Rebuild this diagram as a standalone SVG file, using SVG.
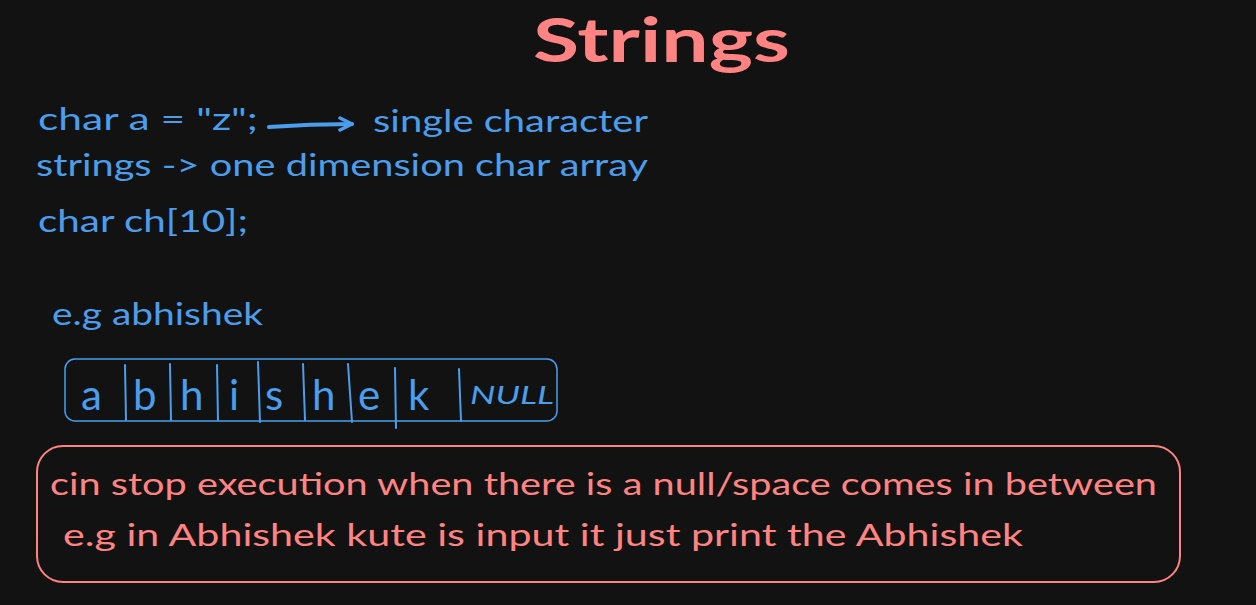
<svg xmlns="http://www.w3.org/2000/svg" width="1256" height="605" viewBox="0 0 1256 605">
<defs>
<style>
.bg{fill:#121212}
.blue{fill:#4a9eed;font-family:"Lato","Noto Sans",sans-serif}
.red{fill:#ff8383;font-family:"Lato","Noto Sans",sans-serif}
.bline{stroke:#4a9eed;stroke-width:2;fill:none;stroke-linecap:round}
</style>
<marker id="ah" viewBox="0 0 16 16" refX="14" refY="8" markerWidth="16" markerHeight="16" markerUnits="userSpaceOnUse" orient="auto">
<path d="M2,2 L14,8 L2,14" fill="none" stroke="#4a9eed" stroke-width="3.5" stroke-linecap="round" stroke-linejoin="round"/>
</marker>
</defs>
<rect class="bg" x="0" y="0" width="1256" height="605"/>
<g id="title"><text class="red" x="533" y="62" font-size="62" font-weight="bold" textLength="257" lengthAdjust="spacingAndGlyphs">Strings</text></g>
<g id="line1"><text class="blue" x="38" y="130" font-size="30" textLength="220" lengthAdjust="spacingAndGlyphs">char a = "z";</text></g>
<g id="line1b"><text class="blue" x="373" y="132" font-size="30" textLength="275" lengthAdjust="spacingAndGlyphs">single character</text></g>
<g id="line2"><text class="blue" x="36" y="176" font-size="30" textLength="612" lengthAdjust="spacingAndGlyphs">strings -&gt; one dimension char array</text></g>
<g id="line3"><text class="blue" x="38" y="232" font-size="30" textLength="210" lengthAdjust="spacingAndGlyphs">char ch[10];</text></g>
<g id="example"><text class="blue" x="52" y="325" font-size="30" textLength="211" lengthAdjust="spacingAndGlyphs">e.g abhishek</text></g>
<g id="array">
<rect x="65" y="359" width="492" height="62" rx="10" stroke="#4a9eed" stroke-width="1.5" fill="none"/>
<g class="bline">
<line x1="125" y1="365" x2="126" y2="420"/>
<line x1="170" y1="364" x2="171" y2="420"/>
<line x1="217" y1="365" x2="218" y2="420"/>
<line x1="258" y1="362" x2="260" y2="422"/>
<line x1="303" y1="364" x2="305" y2="420"/>
<line x1="348" y1="364" x2="352" y2="422"/>
<line x1="395" y1="368" x2="396" y2="428"/>
<line x1="459" y1="369" x2="461" y2="421"/>
</g>
<g class="blue" font-size="42">
<text x="81" y="410">a</text>
<text x="133" y="410">b</text>
<text x="180" y="410">h</text>
<text x="229" y="410">i</text>
<text x="265" y="410">s</text>
<text x="312" y="410">h</text>
<text x="358" y="410">e</text>
<text x="408" y="410">k</text>
</g>
<text class="blue" x="470" y="404" font-size="26" font-style="italic" textLength="84" lengthAdjust="spacingAndGlyphs">NULL</text>
</g>
<g id="note">
<rect x="37" y="446" width="1143" height="136" rx="26" stroke="#ff8383" stroke-width="2" fill="none"/>
<text class="red" x="50" y="495" font-size="31" textLength="1107" lengthAdjust="spacingAndGlyphs">cin stop execution when there is a null/space comes in between</text>
<text class="red" x="63" y="546" font-size="31" textLength="960" lengthAdjust="spacingAndGlyphs">e.g in Abhishek kute is input it just print the Abhishek</text>
</g>
<g id="connectors">
<path d="M269,127 Q310,124 352,124" stroke="#4a9eed" stroke-width="4" fill="none" stroke-linecap="round" marker-end="url(#ah)"/>
</g>
</svg>
